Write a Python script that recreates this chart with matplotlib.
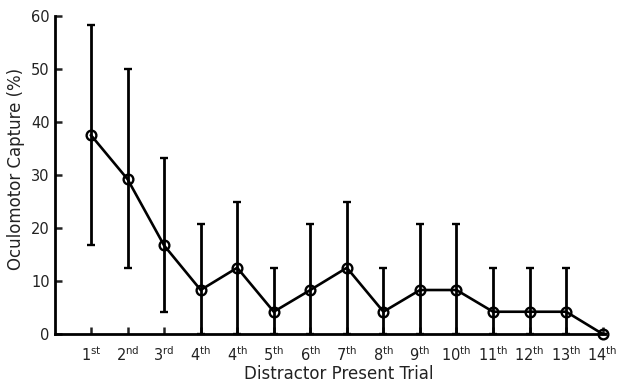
import numpy as np
import matplotlib.pyplot as plt

# Oculomotor capture per distractor present trial
trial_labels = ['1$^{\\mathrm{st}}$', '2$^{\\mathrm{nd}}$', '3$^{\\mathrm{rd}}$',
                '4$^{\\mathrm{th}}$', '4$^{\\mathrm{th}}$', '5$^{\\mathrm{th}}$',
                '6$^{\\mathrm{th}}$', '7$^{\\mathrm{th}}$', '8$^{\\mathrm{th}}$',
                '9$^{\\mathrm{th}}$', '10$^{\\mathrm{th}}$', '11$^{\\mathrm{th}}$',
                '12$^{\\mathrm{th}}$', '13$^{\\mathrm{th}}$', '14$^{\\mathrm{th}}$']
capture = [37.5, 29.2, 16.7, 8.3, 12.5, 4.2, 8.3, 12.5, 4.2, 8.3, 8.3, 4.2, 4.2, 4.2, 0.0]
ci_low = [16.7, 12.5, 4.2, 0, 0, 0, 0, 0, 0, 0, 0, 0, 0, 0, 0]
ci_high = [58.3, 50.0, 33.3, 20.8, 25.0, 12.5, 20.8, 25.0, 12.5, 20.8, 20.8, 12.5, 12.5, 12.5, 0.0]

x = np.arange(1, len(capture) + 1)
y = np.array(capture)
yerr = [y - np.array(ci_low), np.array(ci_high) - y]

fig = plt.figure(figsize=(6.19, 3.84), dpi=100)
ax = fig.add_axes([54.5 / 619, 50 / 384, 550 / 619, 318 / 384])

ax.errorbar(x, y, yerr=yerr, color='black', lw=1.9, marker='o', ms=7,
            mfc='none', mec='black', mew=1.7, capsize=3, capthick=2, elinewidth=2,
            ecolor='black', clip_on=False)

ax.set_xlim(0, 15.05)
ax.set_ylim(0, 60)
ax.set_yticks([0, 10, 20, 30, 40, 50, 60])
ax.set_xticks(x)
ax.set_xticklabels(trial_labels)
ax.tick_params(direction='in', length=5, width=1.8, labelsize=10.5, colors='#222222')
ax.tick_params(axis='x', pad=8)
for side in ['top', 'right']:
    ax.spines[side].set_visible(False)
for side in ['left', 'bottom']:
    ax.spines[side].set_linewidth(2)

ax.set_xlabel('Distractor Present Trial', fontsize=12, color='#222222')
ax.set_ylabel('Oculomotor Capture (%)', fontsize=12, color='#222222')
ax.xaxis.set_label_coords(0.516, -0.097)
ax.yaxis.set_label_coords(-0.053, 0.52)

plt.savefig('out.png', dpi=100)
